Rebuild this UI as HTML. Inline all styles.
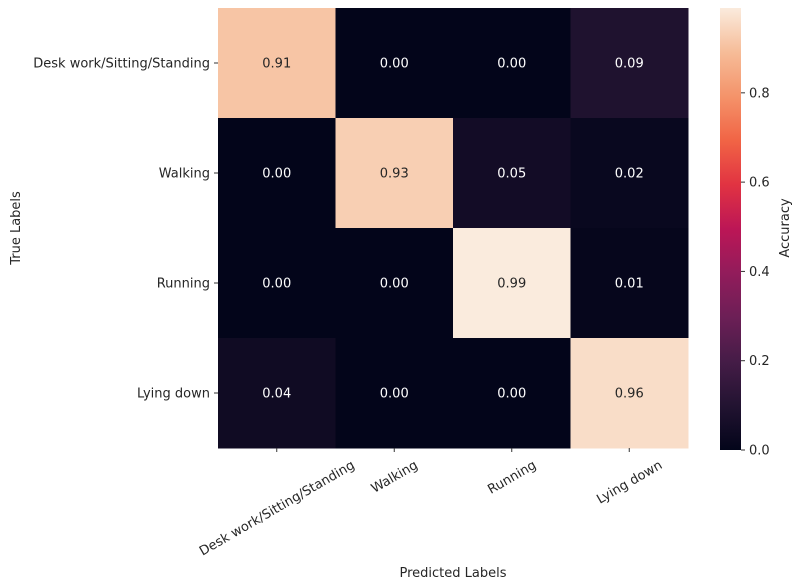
<!DOCTYPE html>
<html><head><meta charset="utf-8"><style>
body{margin:0;background:#fff;}
svg{display:block;font-family:"DejaVu Sans","Liberation Sans",sans-serif;}
</style></head><body>
<svg id="c" width="800" height="588">
<defs>
<linearGradient id="rocket" x1="0" y1="1" x2="0" y2="0">
<stop offset="0" stop-color="#03051a"/><stop offset="0.1" stop-color="#221331"/>
<stop offset="0.2" stop-color="#451c47"/><stop offset="0.3" stop-color="#6c1f56"/>
<stop offset="0.4" stop-color="#921c5b"/><stop offset="0.5" stop-color="#bc1656"/>
<stop offset="0.6" stop-color="#e13342"/><stop offset="0.7" stop-color="#f16445"/>
<stop offset="0.8" stop-color="#f4936a"/><stop offset="0.9" stop-color="#f6bc98"/>
<stop offset="1" stop-color="#faebdd"/>
</linearGradient></defs>
</svg>
<script>
const rowLabels=["Desk work/Sitting/Standing","Walking","Running","Lying down"];
const colLabels=["Desk work/Sitting/Standing","Walking","Running","Lying down"];
const values=[[0.91,0.00,0.00,0.09],[0.00,0.93,0.05,0.02],[0.00,0.00,0.99,0.01],[0.04,0.00,0.00,0.96]];
const cbTicks=[0.0,0.2,0.4,0.6,0.8];
const vmin=0,vmax=0.99;
const stops=[[0,[3,5,26]],[0.1,[34,19,49]],[0.2,[69,28,71]],[0.3,[108,31,86]],[0.4,[146,28,91]],[0.5,[188,22,86]],[0.6,[225,51,66]],[0.7,[241,100,69]],[0.8,[244,147,106]],[0.9,[246,188,152]],[1,[250,235,221]]];
function cmap(v){let t=Math.max(0,Math.min(1,(v-vmin)/(vmax-vmin)));for(let i=1;i<stops.length;i++){if(t<=stops[i][0]){const a=stops[i-1],b=stops[i],f=(t-a[0])/(b[0]-a[0]);const c=a[1].map((x,k)=>Math.round(x+(b[1][k]-x)*f));return `rgb(${c})`;}}return "rgb(250,235,221)";}
const X0=218,X1=688,Y0=8,Y1=448;
const cw=(X1-X0)/colLabels.length,rh=(Y1-Y0)/rowLabels.length;
const xS=j=>X0+j*cw,yS=i=>Y0+i*rh;
const svg=document.getElementById('c');const NS="http://www.w3.org/2000/svg";
function mk(t,a,txt){const e=document.createElementNS(NS,t);for(const k in a)e.setAttribute(k,a[k]);if(txt!=null)e.textContent=txt;svg.appendChild(e);return e;}
values.forEach((row,i)=>row.forEach((v,j)=>{
 const r=mk('rect',{x:xS(j),y:yS(i),width:cw+0.5,height:rh+0.5,fill:cmap(v)});
 
 
 const t=mk('text',{x:xS(j)+cw/2,y:yS(i)+rh/2+4.5,'text-anchor':'middle','font-size':13,fill:(v-vmin)/(vmax-vmin)>0.6?'#262626':'#ffffff'},v.toFixed(2));
 
 
}));
rowLabels.forEach((l,i)=>{const y=yS(i)+rh/2;
 mk('line',{x1:X0-4,x2:X0,y1:y,y2:y,stroke:'#333'});
 const t=mk('text',{x:X0-8,y:y+4.5,'text-anchor':'end','font-size':13,fill:'#262626'},l);
 
 
});
colLabels.forEach((l,j)=>{const x=xS(j)+cw/2;
 mk('line',{x1:x,x2:x,y1:Y1,y2:Y1+4,stroke:'#333'});
 const t=mk('text',{x:0,y:0,'text-anchor':'middle','font-size':13,fill:'#262626'},l);
 
 
 const w=t.getComputedTextLength();const hh=(w*0.5+13*0.866)/2;
 t.setAttribute('transform',`translate(${x},${Y1+10+hh}) rotate(-30)`);t.setAttribute('dy','4.5');
});
const cbx=720,cbw=21,cbT=Y0,cbB=Y1+2;
const cbScale=v=>cbB-(v-vmin)/(vmax-vmin)*(cbB-cbT);
const cb=mk('rect',{x:cbx,y:cbT,width:cbw,height:cbB-cbT,fill:'url(#rocket)'});


cbTicks.forEach(v=>{const y=cbScale(v);
 mk('line',{x1:cbx+cbw,x2:cbx+cbw+4,y1:y,y2:y,stroke:'#333'});
 const t=mk('text',{x:cbx+cbw+8,y:y+4.5,'font-size':13,fill:'#262626'},v.toFixed(1));
 
 
});
let t=mk('text',{x:0,y:0,'text-anchor':'middle','font-size':13,fill:'#262626',transform:'translate(789,228) rotate(-90)'},'Accuracy');

t=mk('text',{x:0,y:0,'text-anchor':'middle','font-size':13,fill:'#262626',transform:'translate(20,228) rotate(-90)'},'True Labels');

t=mk('text',{x:453,y:577,'text-anchor':'middle','font-size':13,fill:'#262626'},'Predicted Labels');

</script>
</body></html>
